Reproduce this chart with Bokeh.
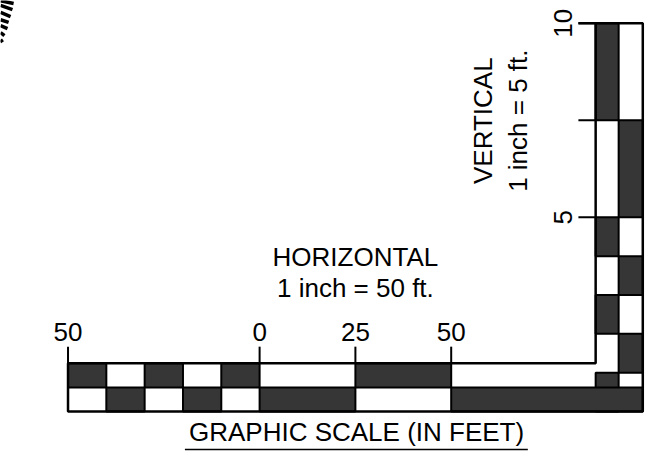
import math
from bokeh.plotting import figure
from bokeh.models import Range1d, ColumnDataSource, Label
from bokeh.core.properties import value
from bokeh.embed import file_html
from bokeh.resources import INLINE

# ---------------- data (scale values) ----------------
# horizontal scale, feet (1 inch = 50 ft)
h_edges = [-50, -40, -30, -20, -10, 0, 25, 50]
h_top_dark = [1, 0, 1, 0, 1, 0, 1]
h_bot_dark = [0, 1, 0, 1, 0, 1, 0]
h_tick_values = [-50, 0, 25, 50]
h_tick_labels = ["50", "0", "25", "50"]

# vertical scale, feet (1 inch = 5 ft)
v_edges = [0, 1, 2, 3, 4, 5, 7.5, 10]
v_inner_dark = [1, 0, 1, 0, 1, 0, 1]
v_outer_dark = [0, 1, 0, 1, 0, 1, 0]
v_tick_values = [10, 7.5, 5]
v_tick_labels = ["10", "", "5"]

# edge of a stamp seal visible in the upper-left corner (short radial strokes)
seal_x0 = [-67.6, -67.6, -67.6, -67.6, -67.6, -67.6, -67.6]
seal_y0 = [10.58, 10.46, 10.28, 10.09, 9.94, 9.76, 9.58]
seal_x1 = [-64.2, -64.5, -65.0, -65.5, -65.8, -66.6, -67.1]
seal_y1 = [10.51, 10.35, 10.17, 10.02, 9.86, 9.68, 9.51]

# ---------------- layout / style ----------------
ROW = 0.62          # height of one bar row (in vertical-scale units)
X_IN, X_MID, X_OUT = 87.7, 93.7, 100.0   # columns of the vertical bar
EXT_START = 50
TICK_TOP = 1.67
VTICK_LEFT = 83.2
DARK = "#363636"
FONT = value("Liberation Sans")
FS = "26px"

p = figure(width=657, height=471,
           x_range=Range1d(-67.62, 103.84), y_range=Range1d(-1.545, 10.585),
           output_backend="svg", toolbar_location=None, min_border=0,
           x_axis_type=None, y_axis_type=None)
p.grid.visible = False
p.outline_line_color = None
p.background_fill_color = "white"
p.border_fill_color = "white"

def cells(edges, flags, lo, hi, horizontal=True):
    L, R, B, T = [], [], [], []
    for i, f in enumerate(flags):
        if not f:
            continue
        if horizontal:
            L.append(edges[i]); R.append(edges[i + 1]); B.append(lo); T.append(hi)
        else:
            L.append(lo); R.append(hi); B.append(edges[i]); T.append(edges[i + 1])
    return dict(left=L, right=R, bottom=B, top=T)

dark_sets = [
    cells(h_edges, h_top_dark, ROW, 2 * ROW),
    cells(h_edges, h_bot_dark, 0, ROW),
    cells(v_edges, v_inner_dark, X_IN, X_MID, horizontal=False),
    cells(v_edges, v_outer_dark, X_MID, X_OUT, horizontal=False),
    dict(left=[EXT_START], right=[X_OUT], bottom=[0], top=[ROW]),
]
for d in dark_sets:
    p.quad(source=ColumnDataSource(d), left="left", right="right", bottom="bottom", top="top",
           fill_color=DARK, line_color="black", line_width=2)

# outline of the L-shaped scale
p.line(x=[h_edges[0], X_IN, X_IN], y=[2 * ROW, 2 * ROW, v_edges[-1]], line_color="black", line_width=2.5)
p.line(x=[VTICK_LEFT, X_OUT, X_OUT, h_edges[0], h_edges[0]],
       y=[v_edges[-1], v_edges[-1], 0, 0, 2 * ROW], line_color="black", line_width=2.5)

# ticks
p.segment(x0=h_tick_values, y0=[2 * ROW] * len(h_tick_values), x1=h_tick_values,
          y1=[TICK_TOP] * len(h_tick_values), line_color="black", line_width=2)
p.segment(x0=[VTICK_LEFT] * len(v_tick_values), y0=v_tick_values,
          x1=[X_IN] * len(v_tick_values), y1=v_tick_values, line_color="black", line_width=2)

# seal edge strokes
p.segment(x0=seal_x0, y0=seal_y0, x1=seal_x1, y1=seal_y1, line_color="black", line_width=3.5)

# tick labels
p.text(x=h_tick_values, y=[2.04] * len(h_tick_values), text=h_tick_labels,
       text_font=FONT, text_font_size=FS, text_align="center", text_baseline="middle",
       text_color="black")
p.text(x=[79.3] * len(v_tick_values), y=v_tick_values, text=v_tick_labels, angle=math.pi / 2,
       text_font=FONT, text_font_size=FS, text_align="center", text_baseline="middle",
       text_color="black")

def label(x, y, t, angle=0):
    p.add_layout(Label(x=x, y=y, text=t, angle=angle, text_font="Liberation Sans",
                       text_font_size=FS, text_align="center", text_baseline="middle",
                       text_color="black"))

label(25, 3.97, "HORIZONTAL")
label(25, 3.17, "1 inch = 50 ft.")
label(58.3, 7.49, "VERTICAL", math.pi / 2)
label(67.4, 7.49, "1 inch = 5 ft.", math.pi / 2)
label(25.3, -0.54, "GRAPHIC SCALE (IN FEET)")
p.line(x=[-19.5, 70.0], y=[-0.98, -0.98], line_color="black", line_width=1.5)

open("out.html", "w").write(file_html(p, INLINE))
